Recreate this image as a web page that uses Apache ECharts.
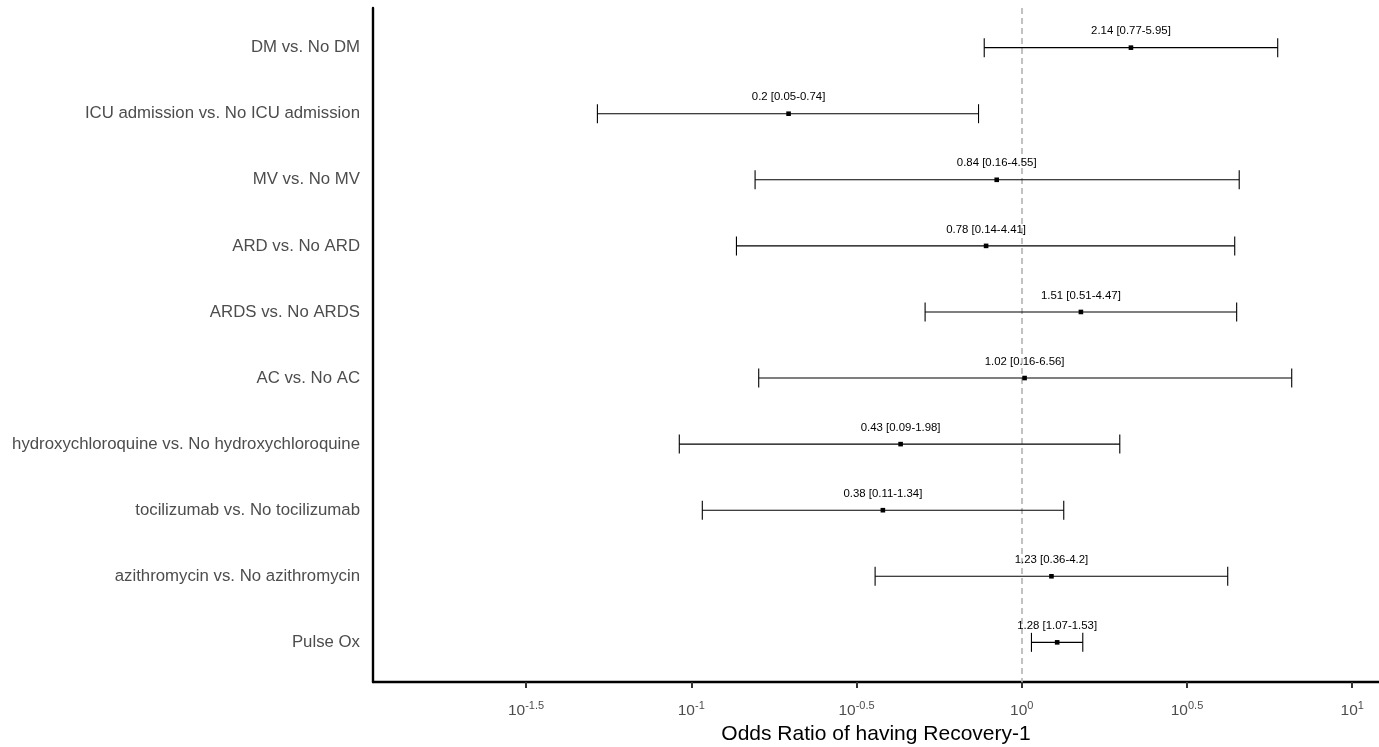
<!DOCTYPE html>
<html>
<head>
<meta charset="utf-8">
<script src="https://cdn.jsdelivr.net/npm/echarts@6/dist/echarts.min.js"></script>
<style>
html,body{margin:0;padding:0;background:#fff;}
#chart{width:1379px;height:747px;}
</style>
</head>
<body>
<div id="chart"></div>
<script>
const categories = [
  'DM vs. No DM',
  'ICU admission vs. No ICU admission',
  'MV vs. No MV',
  'ARD vs. No ARD',
  'ARDS vs. No ARDS',
  'AC vs. No AC',
  'hydroxychloroquine vs. No hydroxychloroquine',
  'tocilizumab vs. No tocilizumab',
  'azithromycin vs. No azithromycin',
  'Pulse Ox'
];
const oddsRatio = [2.14, 0.197, 0.84, 0.78, 1.51, 1.02, 0.43, 0.38, 1.23, 1.28];
const lowerCI   = [0.77, 0.052, 0.156, 0.137, 0.51, 0.16, 0.092, 0.108, 0.36, 1.07];
const upperCI   = [5.95, 0.74, 4.55, 4.41, 4.47, 6.56, 1.98, 1.34, 4.2, 1.53];
const xTickExponents = [-1.5, -1, -0.5, 0, 0.5, 1];
const referenceOR = 1;

const FONT = '"Liberation Sans", Arial, Helvetica, sans-serif';
const r2 = v => String(Number(v.toFixed(2)));

const seriesData = categories.map((c, i) => ({
  value: [Math.log10(oddsRatio[i]), Math.log10(lowerCI[i]), Math.log10(upperCI[i]), i + 1],
  label: r2(oddsRatio[i]) + ' [' + r2(lowerCI[i]) + '-' + r2(upperCI[i]) + ']'
}));

const chart = echarts.init(document.getElementById('chart'), null, {renderer: 'canvas'});

function renderItem(params, api) {
  const yv = api.value(3);
  const p = api.coord([api.value(0), yv]);
  const l = api.coord([api.value(1), yv]);
  const h = api.coord([api.value(2), yv]);
  const y = p[1];
  const cap = 9.5;
  const stroke = {stroke: '#000', lineWidth: 1.1};
  const item = seriesData[params.dataIndex];
  return {
    type: 'group',
    children: [
      {type: 'line', shape: {x1: l[0], y1: y, x2: h[0], y2: y}, style: stroke},
      {type: 'line', shape: {x1: l[0], y1: y - cap, x2: l[0], y2: y + cap}, style: stroke},
      {type: 'line', shape: {x1: h[0], y1: y - cap, x2: h[0], y2: y + cap}, style: stroke},
      {type: 'rect', shape: {x: p[0] - 2.3, y: y - 2.3, width: 4.6, height: 4.6}, style: {fill: '#000'}},
      {type: 'text', style: {text: item.label, x: p[0], y: y - 16.5, align: 'center', verticalAlign: 'middle',
        fill: '#000', fontSize: 11.4, fontFamily: FONT}}
    ]
  };
}

const option = {
  animation: false,
  backgroundColor: '#fff',
  grid: {left: 373, right: 0, top: 8, bottom: 65, containLabel: false, outerBoundsMode: 'none'},
  xAxis: {
    type: 'value',
    min: -1.963,
    max: 1.081,
    name: 'Odds Ratio of having Recovery-1',
    nameLocation: 'middle',
    nameGap: 36,
    nameTextStyle: {fontSize: 21, color: '#000', fontFamily: FONT},
    axisLine: {show: true, onZero: false, lineStyle: {color: '#000', width: 2.4}},
    axisTick: {show: true, customValues: xTickExponents, length: 6, lineStyle: {color: '#333', width: 2}},
    splitLine: {show: false},
    axisLabel: {
      customValues: xTickExponents,
      margin: 18,
      formatter: v => '{b|10}{s|' + v + '}',
      rich: {
        b: {fontSize: 15.5, color: '#4d4d4d', fontFamily: FONT},
        s: {fontSize: 11, color: '#4d4d4d', fontFamily: FONT, padding: [0, 0, 10, 0]}
      }
    }
  },
  yAxis: {
    type: 'value',
    min: 0.4,
    max: 10.6,
    inverse: true,
    axisLine: {show: true, onZero: false, lineStyle: {color: '#000', width: 2.4}},
    axisTick: {show: false},
    splitLine: {show: false},
    axisLabel: {
      customValues: categories.map((c, i) => i + 1),
      formatter: v => categories[Math.round(v) - 1] || '',
      fontSize: 16.8,
      color: '#4d4d4d',
      fontFamily: FONT,
      margin: 13
    }
  },
  series: [{
    type: 'custom',
    renderItem: renderItem,
    encode: {x: [0, 1, 2], y: 3},
    data: seriesData.map(d => d.value),
    clip: false,
    z: 3,
    markLine: {
      silent: true,
      symbol: 'none',
      label: {show: false},
      lineStyle: {color: '#b3b3b3', type: [6, 4], width: 1.6},
      data: [{xAxis: Math.log10(referenceOR)}],
      z: 1
    }
  }]
};
chart.setOption(option);
</script>
</body>
</html>
